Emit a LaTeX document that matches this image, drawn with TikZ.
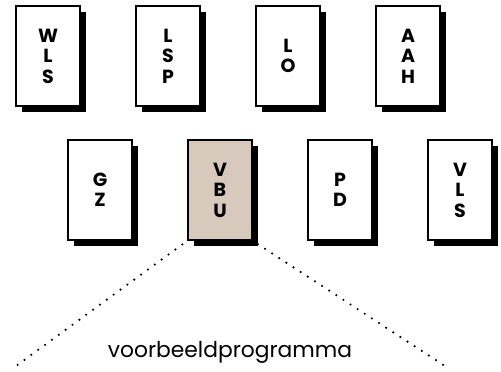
\documentclass[tikz,border=0pt]{standalone}
\usepackage{fontspec}
\setmainfont{Poppins}
\usetikzlibrary{shadows}
\definecolor{vbubeige}{RGB}{216,201,189}
\tikzset{
	vak/.style={draw=black, line width=1.8pt, fill=white, minimum width=64pt, minimum height=100pt,
		align=center, font=\fontsize{19}{20.5}\selectfont\bfseries, inner sep=0pt,
		drop shadow={shadow xshift=5.5pt, shadow yshift=-5.5pt, opacity=1, fill=black}},
	uitklap/.style={line width=2.4pt, line cap=round, dash pattern=on 0pt off 8.5pt, shorten <=6pt}
}

\begin{document}
\begin{tikzpicture}[x=1pt, y=-1pt]
			\useasboundingbox (0,0) rectangle (501,372);
			% bovenste rij
			\node[vak] (wls) at (48,56)  {W\\L\\S};
			\node[vak] (lsp) at (168,56) {L\\S\\P};
			\node[vak] (lo)  at (288,56) {L\\O};
			\node[vak] (aah) at (408,56) {A\\A\\H};
			% onderste rij
			\node[vak] (gz)  at (100,190) {G\\Z};
			\node[vak, fill=vbubeige] (vbu) at (220,190) {V\\B\\U};
			\node[vak] (pd)  at (340,190) {P\\D};
			\node[vak] (vls) at (460,190) {V\\L\\S};
			\coordinate (links) at (12,369);
			\coordinate (rechts) at (448,368);
			\node[font=\fontsize{21.8}{24}\selectfont] (voorbeeld) at (230,352) {voorbeeldprogramma};
			\draw[uitklap] (vbu.south west) -- (links);
			\draw[uitklap] (vbu.south east) -- (rechts);
		\end{tikzpicture}
\end{document}
